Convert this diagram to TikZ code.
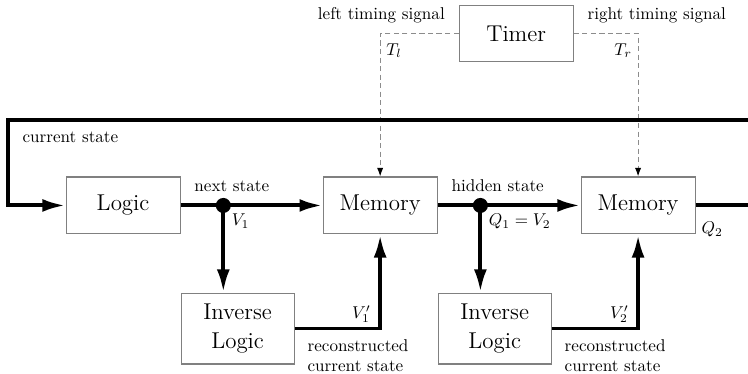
\documentclass[tikz,border=0pt]{standalone}
\usepackage{amsmath,amssymb}
\usetikzlibrary{arrows.meta,positioning}

\begin{document}
\begin{tikzpicture}[node distance=34pt and 83pt, >={Latex[length=13.5pt,width=7.5pt]},
  box/.style={draw=black!50, line width=0.6pt, align=center, minimum width=66.7pt, minimum height=33.3pt, font=\fontsize{13.4}{17.5}\selectfont},
  inv/.style={box, minimum width=66.1pt, minimum height=41.5pt},
  bus/.style={line width=2.3pt},
  sig/.style={draw=black!45, line width=0.6pt, dash pattern=on 3pt off 2pt, -{Latex[length=5pt,width=3.6pt,color=black]}},
  dot/.style={circle, fill, inner sep=0pt, minimum size=8.8pt},
  lbl/.style={font=\normalsize}]
  \useasboundingbox (0,0) rectangle (437.6pt,-218.8pt);
  \clip (0,0) rectangle (437.6pt,-218.8pt);
  \node[box] (logic) at (72pt,-120.2pt) {Logic};
  \node[box, right=83.1pt of logic] (mem1) {Memory};
  \node[box, right=83.6pt of mem1] (mem2) {Memory};
  \node[inv, below right=34pt and 0pt of logic] (inv1) {Inverse\\ Logic};
  \node[inv, below right=34pt and 0pt of mem1] (inv2) {Inverse\\ Logic};
  \node[box, above right=66.7pt and 12.3pt of mem1] (timer) {Timer};
  \node[dot] (d1) at ([xshift=25pt]logic.east) {};
  \node[dot] (d2) at ([xshift=25pt]mem1.east) {};
  \coordinate (ctl) at (4.7pt,-70.2pt);
  \coordinate (far) at (445pt,-70.2pt);
  % labels
  \node[lbl, anchor=base east] (ltsig) at ([xshift=-4.6pt, yshift=8.1pt]timer.west) {left timing signal};
  \node[lbl, anchor=base west] (rtsig) at ([xshift=4.6pt, yshift=8.1pt]timer.east) {right timing signal};
  \node[lbl, anchor=west] (curlbl) at ([xshift=5pt, yshift=-10pt]ctl) {current state};
  \node[lbl, above right=4.7pt and 4.6pt of logic.east] (nxt) {next state};
  \node[lbl, above right=4.7pt and 4.6pt of mem1.east] (hid) {hidden state};
  \node[lbl, anchor=north west] (v1) at ([xshift=1.4pt, yshift=-1.4pt]d1.center) {$V_1$};
  \node[lbl, anchor=north west] (q1) at ([xshift=1.4pt, yshift=-1.4pt]d2.center) {$Q_1 = V_2$};
  \node[lbl, anchor=north west] (q2) at ([yshift=-6.3pt]mem2.east) {$Q_2$};
  \node[lbl, anchor=south east] (v1r) at ([xshift=-2pt]inv1.east -| mem1.south) {$V_1'$};
  \node[lbl, anchor=south east] (v2r) at ([xshift=-2pt]inv2.east -| mem2.south) {$V_2'$};
  \node[lbl, align=left, anchor=north west] (rec1) at ([xshift=4.1pt, yshift=-2.8pt]inv1.east) {reconstructed\\ current state};
  \node[lbl, align=left, anchor=north west] (rec2) at ([xshift=4.1pt, yshift=-2.8pt]inv2.east) {reconstructed\\ current state};
  % connectors
  \draw[sig] (timer.west) -| node[pos=0.56, right, text=black]{$T_l$} (mem1.north);
  \draw[sig] (timer.east) -| node[pos=0.56, left, text=black]{$T_r$} (mem2.north);
  \draw[bus] (mem2.east) -| (far) -- (ctl) |- (logic.west) [->];
  \draw[bus, ->] (logic) -- (mem1);
  \draw[bus, ->] (mem1) -- (mem2);
  \draw[bus, ->] (d1.center) -- (d1.center |- inv1.north);
  \draw[bus, ->] (d2.center) -- (d2.center |- inv2.north);
  \draw[bus, ->] (inv1.east) -| (mem1.south);
  \draw[bus, ->] (inv2.east) -| (mem2.south);
\end{tikzpicture}
\end{document}
